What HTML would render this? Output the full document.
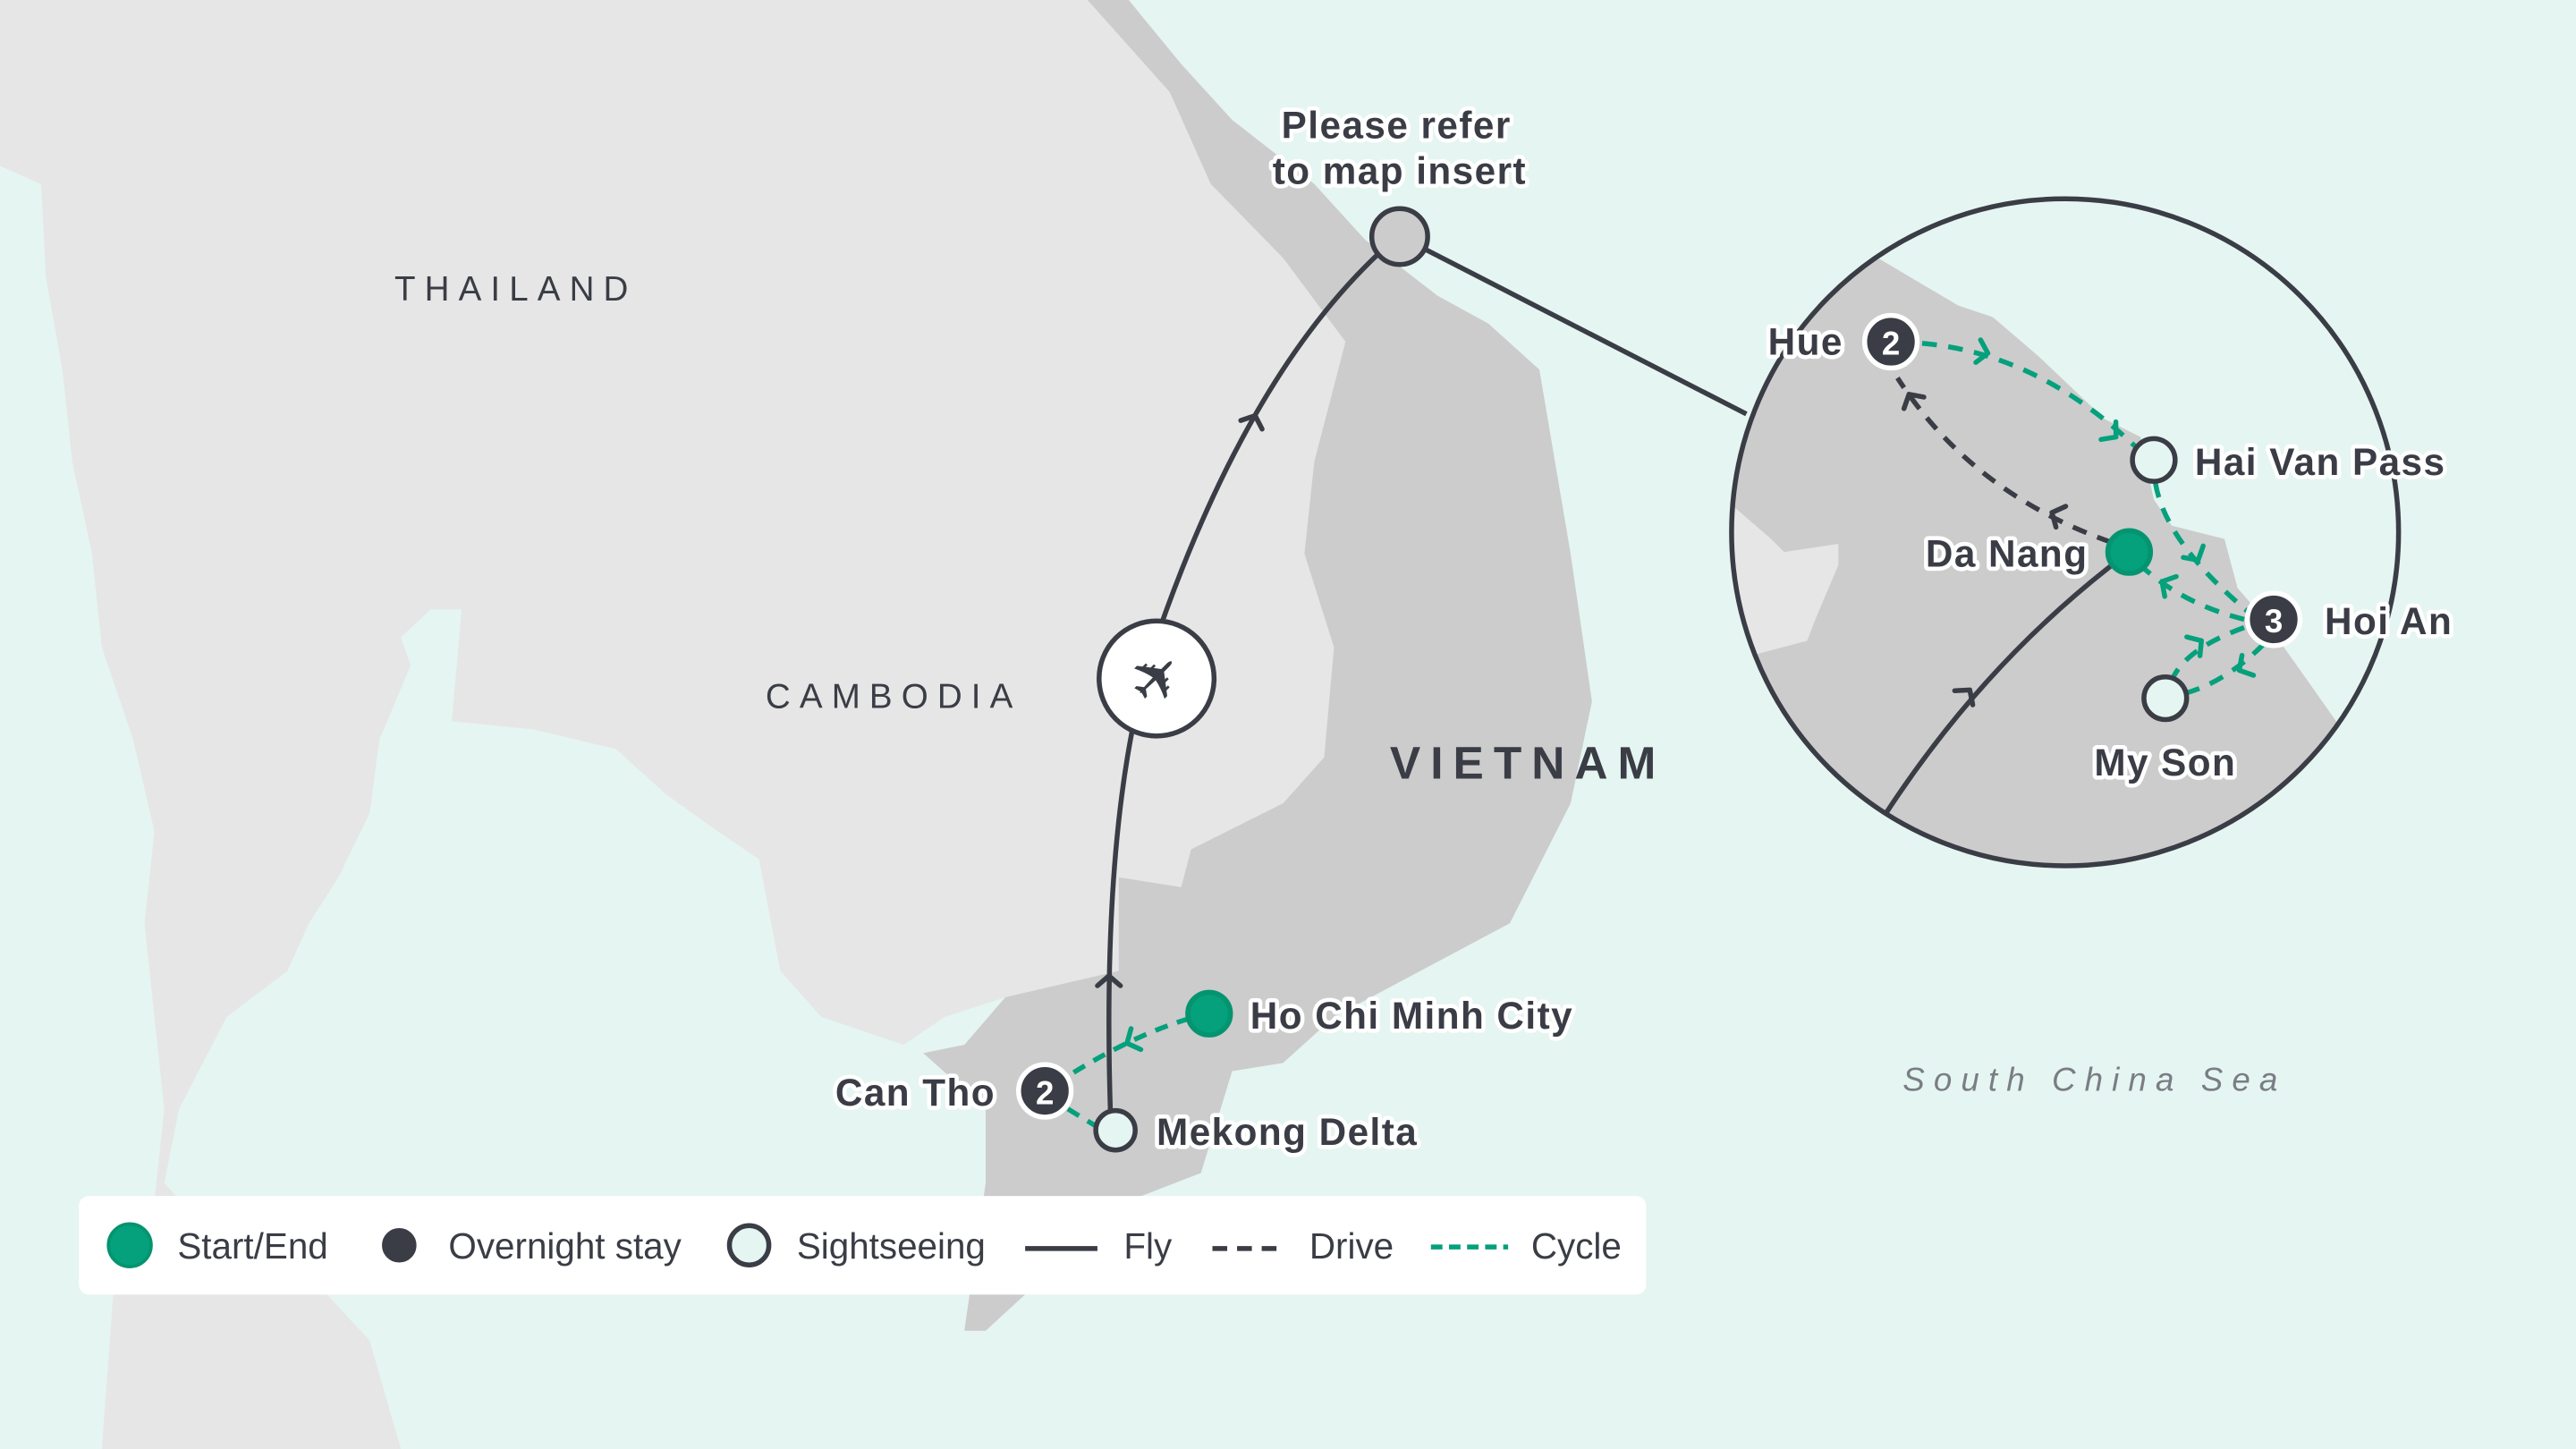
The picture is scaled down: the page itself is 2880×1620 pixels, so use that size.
<!DOCTYPE html>
<html><head><meta charset="utf-8"><style>
html,body{margin:0;padding:0;background:#e5f5f1;}
svg{display:block}
text{font-family:"Liberation Sans",sans-serif;}
.lbl{font-size:23px;letter-spacing:0.8px;font-weight:bold;fill:#3a3d45;stroke:#fff;stroke-width:5px;paint-order:stroke;stroke-linejoin:round}
.lg{font-size:22px;fill:#3a3d45}
.ch{fill:none;stroke-width:3;stroke-linecap:round;stroke-linejoin:round}
</style></head><body>
<svg width="2880" height="1620" viewBox="0 0 1568 882" preserveAspectRatio="none" xmlns="http://www.w3.org/2000/svg">
<rect width="1568" height="882" fill="#e5f5f1"/>
<!-- light land -->
<path d="M0,0 L687,0 L719,39 L750,73 L800,112 L831,146 L875,180 L906,197 L937,225 L956,337 L969,427 L956,489 L919,562 L812,619 L781,647 L750,652 L731,714 L687,731 L625,787 L600,810 L587,810 L600,720 L600,675 L562,641 L587,636 L612,607 L575,619 L550,636 L500,619 L475,591 L462,523 L437,506 L406,484 L375,456 L325,444 L275,439 L281,371 L262,371 L244,388 L250,405 L231,450 L225,495 L206,534 L188,562 L175,591 L138,619 L109,675 L100,720 L125,748 L188,776 L225,816 L244,882 L62,882 L69,787 L94,731 L100,675 L94,619 L88,562 L94,506 L81,450 L62,394 L56,337 L44,281 L38,225 L28,169 L25,112 L0,101 Z" fill="#e6e6e6"/>
<!-- Vietnam -->
<path d="M662,0 L712,56 L737,112 L781,157 L819,208 L800,281 L794,337 L812,394 L806,461 L781,489 L725,517 L719,540 L681,534 L681,591 L612,607 L587,636 L562,641 L600,675 L600,720 L587,810 L600,810 L625,787 L687,731 L731,714 L750,652 L781,647 L812,619 L919,562 L956,489 L969,427 L956,337 L937,225 L906,197 L875,180 L831,146 L800,112 L750,73 L719,39 L687,0 Z" fill="#cccccc"/>
<!-- insert circle -->
<defs><clipPath id="c"><circle cx="1257" cy="324" r="203"/></clipPath></defs>
<circle cx="1257" cy="324" r="203" fill="#e5f5f1"/>
<g clip-path="url(#c)">
<path d="M1040,120 L1120,130 L1143,157 L1192,186 L1213,193 L1241,217 L1281,255 L1303,266 L1311,304 L1322,320 L1354,328 L1362,358 L1376,374 L1403,412 L1422,439 L1440,540 L1040,540 Z" fill="#cccccc"/>
<path d="M1040,305 L1056,309 L1078,328 L1086,336 L1119,331 L1119,344 L1105,377 L1100,390 L1070,398 L1040,402 Z" fill="#e6e6e6"/>
<path d="M1148,495 Q1210,400 1296,336" fill="none" stroke="#3a3d45" stroke-width="3"/>
<!-- drive -->
<path d="M1285,330 Q1200,300 1155,230" fill="none" stroke="#3a3d45" stroke-width="3" stroke-dasharray="9,7"/>
<!-- cycle -->
<g fill="none" stroke="#05a07c" stroke-width="3" stroke-dasharray="9,7">
<path d="M1170,209 Q1240,215 1300,272"/>
<path d="M1312,294 Q1318,330 1368,372"/>
<path d="M1366,377 Q1330,368 1305,346"/>
<path d="M1366,382 Q1330,395 1322,414"/>
<path d="M1378,392 Q1355,415 1330,422"/>
</g>
</g>
<!-- chevrons -->
<g class="ch" stroke="#3a3d45">
<path d="M-6,-7 L0,0 L-6,7" transform="translate(1199,420) rotate(-52)"/>
<path d="M-6,-7 L0,0 L-6,7" transform="translate(1249,312) rotate(-155)"/>
<path d="M-6,-7 L0,0 L-6,7" transform="translate(1162,240) rotate(-120)"/>
<path d="M-6,-7 L0,0 L-6,7" transform="translate(675,594) rotate(-90)"/>
<path d="M-6,-7 L0,0 L-6,7" transform="translate(764,253) rotate(-68)"/>
</g>
<g class="ch" stroke="#05a07c">
<path d="M-6,-7 L0,0 L-6,7" transform="translate(1210,215) rotate(12)"/>
<path d="M-6,-7 L0,0 L-6,7" transform="translate(1288,266) rotate(40)"/>
<path d="M-6,-7 L0,0 L-6,7" transform="translate(1338,341) rotate(60)"/>
<path d="M-6,-7 L0,0 L-6,7" transform="translate(1316,354) rotate(-150)"/>
<path d="M-6,-7 L0,0 L-6,7" transform="translate(1363,408) rotate(150)"/>
<path d="M-6,-7 L0,0 L-6,7" transform="translate(1340,390) rotate(-35)"/>
<path d="M-6,-7 L0,0 L-6,7" transform="translate(686,635) rotate(155)"/>
</g>
<circle cx="1257" cy="324" r="203" fill="none" stroke="#3a3d45" stroke-width="3"/>
<line x1="868" y1="152" x2="1063" y2="252" stroke="#3a3d45" stroke-width="3"/>
<!-- insert nodes -->
<circle cx="1151" cy="208" r="16" fill="#3a3d45" stroke="#fff" stroke-width="3"/>
<text x="1151" y="216" text-anchor="middle" font-size="20" font-weight="bold" fill="#fff">2</text>
<circle cx="1311" cy="280" r="13" fill="#e5f5f1" stroke="#3a3d45" stroke-width="3"/>
<circle cx="1296" cy="336" r="13" fill="#05a07c" stroke="#04946f" stroke-width="3"/>
<circle cx="1384" cy="377" r="16" fill="#3a3d45" stroke="#fff" stroke-width="3"/>
<text x="1384" y="385" text-anchor="middle" font-size="20" font-weight="bold" fill="#fff">3</text>
<circle cx="1318" cy="425" r="13" fill="#e5f5f1" stroke="#3a3d45" stroke-width="3"/>
<text class="lbl" x="1122" y="216" text-anchor="end">Hue</text>
<text class="lbl" x="1336" y="289">Hai Van Pass</text>
<text class="lbl" x="1271" y="345" text-anchor="end">Da Nang</text>
<text class="lbl" x="1415" y="386">Hoi An</text>
<text class="lbl" x="1318" y="472" text-anchor="middle">My Son</text>
<!-- country labels -->
<text x="314" y="183" text-anchor="middle" font-size="21" letter-spacing="5.5" fill="#3a3d45">THAILAND</text>
<text x="544" y="431" text-anchor="middle" font-size="21" letter-spacing="5.5" fill="#3a3d45">CAMBODIA</text>
<text x="930" y="474" text-anchor="middle" font-size="28" letter-spacing="6" fill="#3a3d45" font-weight="bold">VIETNAM</text>
<text x="1275" y="664" text-anchor="middle" font-size="20" letter-spacing="5.5" font-style="italic" fill="#7a7d85">South China Sea</text>
<!-- fly route -->
<path d="M676,680 Q670,500 700,400 Q760,220 852,143" fill="none" stroke="#3a3d45" stroke-width="3"/>
<circle cx="704" cy="413" r="35" fill="#fff" stroke="#3a3d45" stroke-width="3"/>
<text x="0" y="13" text-anchor="middle" font-size="38" fill="#3a3d45" font-family="DejaVu Sans" transform="translate(704,413) rotate(-45)">✈</text>
<circle cx="852" cy="144" r="17" fill="#cccccc" stroke="#3a3d45" stroke-width="3"/>
<text class="lbl" x="850" y="84" text-anchor="middle">Please refer</text>
<text class="lbl" x="852" y="112" text-anchor="middle">to map insert</text>
<!-- south cycle -->
<g fill="none" stroke="#05a07c" stroke-width="3" stroke-dasharray="8,6">
<path d="M724,620 Q690,630 650,655"/>
<path d="M650,675 L668,686"/>
</g>
<circle cx="736" cy="617" r="13" fill="#05a07c" stroke="#04946f" stroke-width="3"/>
<circle cx="636" cy="664" r="16" fill="#3a3d45" stroke="#fff" stroke-width="3"/>
<text x="636" y="672" text-anchor="middle" font-size="20" font-weight="bold" fill="#fff">2</text>
<circle cx="679" cy="688" r="12" fill="#e5f5f1" stroke="#3a3d45" stroke-width="3"/>
<text class="lbl" x="761" y="626">Ho Chi Minh City</text>
<text class="lbl" x="606" y="673" text-anchor="end">Can Tho</text>
<text class="lbl" x="704" y="697">Mekong Delta</text>
<!-- legend -->
<rect x="48" y="728" width="954" height="60" rx="6" fill="#fff"/>
<circle cx="79" cy="758" r="13" fill="#05a07c" stroke="#04946f" stroke-width="2"/>
<text class="lg" x="108" y="766">Start/End</text>
<circle cx="243" cy="758" r="12" fill="#3a3d45" stroke="#fff" stroke-width="3"/>
<text class="lg" x="273" y="766">Overnight stay</text>
<circle cx="456" cy="758" r="12" fill="#e5f5f1" stroke="#3a3d45" stroke-width="3"/>
<text class="lg" x="485" y="766">Sightseeing</text>
<line x1="624" y1="760" x2="668" y2="760" stroke="#3a3d45" stroke-width="3"/>
<text class="lg" x="684" y="766">Fly</text>
<line x1="738" y1="760" x2="782" y2="760" stroke="#3a3d45" stroke-width="3" stroke-dasharray="9,6"/>
<text class="lg" x="797" y="766">Drive</text>
<line x1="871" y1="759" x2="918" y2="759" stroke="#05a07c" stroke-width="3" stroke-dasharray="7,4"/>
<text class="lg" x="932" y="766">Cycle</text>
</svg>
</body></html>
